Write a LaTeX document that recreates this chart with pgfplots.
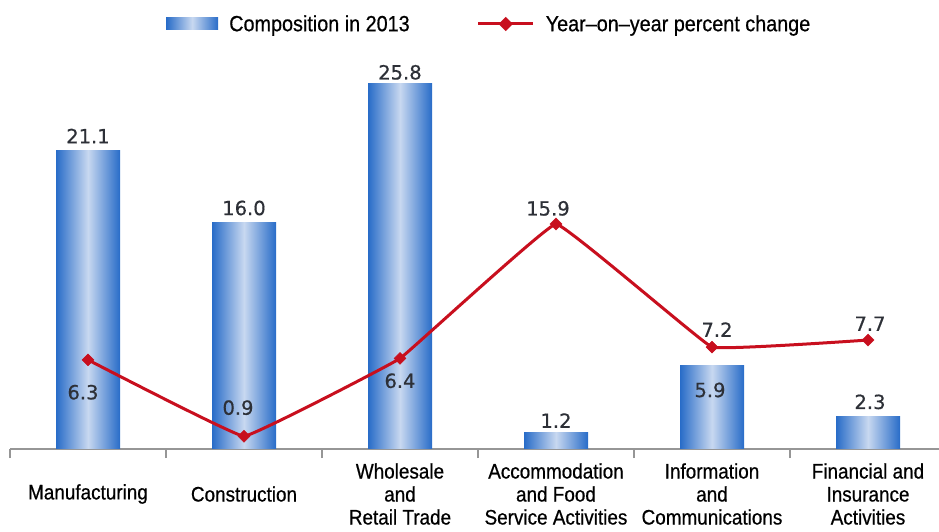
\documentclass[border=0pt]{standalone}
\usepackage{fontspec}
\setmainfont{Liberation Sans}
\newfontfamily\labfont{Liberation Sans}[FakeStretch=0.9, FakeBold=0.6]
\newfontfamily\numfont{DejaVu Sans}[FakeBold=0.6]
\usepackage{pgfplots}
\usepackage{pgfplotstable}
\pgfplotsset{compat=1.18}

\definecolor{barblue}{RGB}{40,108,200}
\definecolor{barlight}{RGB}{200,216,240}
\definecolor{linered}{RGB}{200,15,30}
\definecolor{axisgray}{RGB}{150,150,150}
\definecolor{numtext}{RGB}{45,48,55}

% year-on-year change: x, value, label offsets (pt)
\pgfplotstableread{
x y dx dy
0 6.3 -5 -40
1 0.9 -6 21
2 6.4 0 -30
3 15.9 -8 8
4 7.2 5 10
5 7.7 2 9
}\yoychange

\tikzset{numlabel/.style={inner sep=0pt, text=numtext, font={\numfont\fontsize{19.5}{20}\selectfont}}}
\pgfplotsset{
  % one bar per plot, so every bar gets its own shading
  compbar/.style 2 args={ybar, bar width=64pt, bar shift=0pt, draw=none,
    left color=barblue, right color=barblue, middle color=barlight,
    point meta=y,
    nodes near coords={\pgfmathprintnumber[fixed,fixed zerofill,precision=1,assume math mode=true]{\pgfplotspointmeta}},
    every node near coord/.append style={numlabel, xshift=#1pt, yshift=#2pt}},
}

\begin{document}
\begin{tikzpicture}
\path[use as bounding box] (0,0) rectangle (939pt,532pt);
\begin{axis}[
  at={(10pt,83pt)}, anchor=south west,
  scale only axis,
  width=936pt, height=396.2pt,
  xmin=-0.5, xmax=5.5,
  ymin=0, ymax=28,
  clip=false,
  axis x line=bottom,
  axis y line=none,
  x axis line style={-, draw=axisgray, line width=1.8pt},
  xtick={0,...,5},
  minor xtick={-0.5,0.5,1.5,2.5,3.5,4.5,5.5},
  xtick align=outside,
  major tick length=0pt,
  minor tick length=9pt,
  every minor tick/.append style={draw=axisgray, line width=1.5pt},
  xticklabels={Manufacturing,Construction,{Wholesale\\and\\Retail Trade},
    {Accommodation\\and Food\\Service Activities},{Information\\and\\Communications},
    {Financial and\\Insurance\\Activities}},
  xticklabel style={anchor=center, yshift=-45pt, align=center,
    font=\labfont\fontsize{21}{23}\selectfont, text=black},
  legend columns=2,
  legend style={at={(axis description cs:0.1635,1.0727)}, anchor=west,
    draw=none, fill=none, font=\labfont\fontsize{22}{24}\selectfont,
    nodes={inner sep=0pt},
    /tikz/every odd column/.append style={column sep=11pt},
    /tikz/every even column/.append style={column sep=67pt}},
]
\addplot[compbar={0}{7},
  legend image code/.code={\fill[left color=barblue,right color=barblue,middle color=barlight] (0pt,-6pt) rectangle (52pt,6pt);}]
  coordinates {(0,21.1)};
\addlegendentry{Composition in 2013}
\addplot[compbar={0}{7}, forget plot] coordinates {(1,16.0)};
\addplot[compbar={0}{4}, forget plot] coordinates {(2,25.8)};
\addplot[compbar={0}{4}, forget plot] coordinates {(3,1.2)};
\addplot[compbar={-2}{-32}, forget plot] coordinates {(4,5.9)};
\addplot[compbar={2}{7}, forget plot] coordinates {(5,2.3)};
\addplot[color=linered, line width=3pt, smooth, tension=0.1,
  mark=square*, mark size=4.2pt, mark options={rotate=45, line width=0.5pt},
  point meta=explicit,
  nodes near coords={\pgfmathprintnumber[fixed,fixed zerofill,precision=1,assume math mode=true]{\pgfplotspointmeta}},
  visualization depends on={\thisrow{dx} \as \dx},
  visualization depends on={\thisrow{dy} \as \dy},
  every node near coord/.append style={numlabel, xshift=\dx pt, yshift=\dy pt},
  legend image code/.code={\draw[color=linered, line width=3pt] (0pt,0pt) -- (55pt,0pt); \fill[linered, rotate around={45:(27.5pt,0pt)}] (24pt,-3.5pt) rectangle (31pt,3.5pt);}]
  table[x=x, y=y, meta=y] {\yoychange};
\addlegendentry{Year–on–year percent change}
\end{axis}
\end{tikzpicture}
\end{document}
